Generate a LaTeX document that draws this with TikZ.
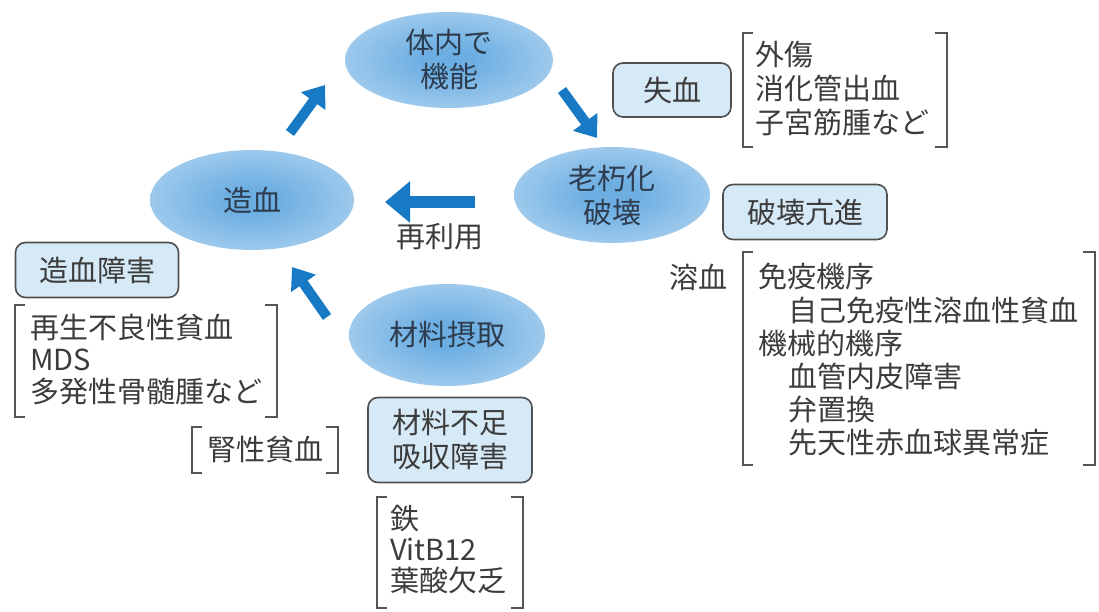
\documentclass[tikz,border=0pt]{standalone}
\usepackage{fontspec}
\setmainfont{Noto Sans CJK JP}
\usetikzlibrary{shapes.geometric,arrows.meta}
\definecolor{arrowblue}{RGB}{24,122,196}
\definecolor{ellin}{RGB}{108,174,226}
\definecolor{ellout}{RGB}{240,247,253}
\definecolor{boxfill}{RGB}{214,233,246}
\definecolor{boxline}{RGB}{80,80,80}
\definecolor{txt}{RGB}{60,60,60}
\definecolor{elltxt}{RGB}{45,60,78}
\definecolor{brk}{RGB}{85,85,85}
\pgfdeclareradialshading{ellshade}{\pgfpoint{0bp}{0bp}}{color(0bp)=(ellin); color(6bp)=(ellin); color(24bp)=(ellin!65!ellout); color(40bp)=(ellin!25!ellout); color(50bp)=(ellout)}
\tikzset{
  cycleell/.style={ellipse, shading=ellshade, inner sep=0pt, align=center, text=elltxt,
    font=\fontsize{29}{34}\selectfont},
  causebox/.style={draw=boxline, line width=1.6pt, fill=boxfill, rounded corners=10pt,
    inner sep=0pt, align=center, text=txt, font=\fontsize{29}{34}\selectfont},
  listtext/.style={anchor=west, align=left, inner sep=0pt, text=txt},
  plaintext/.style={inner sep=0pt, text=txt, font=\fontsize{29}{34}\selectfont},
  bigarrow/.style={draw=arrowblue, line width=12pt, -{Triangle[length=25pt,width=40pt]}},
  smallarrow/.style={draw=arrowblue, line width=10pt, -{Triangle[length=20pt,width=29pt]}},
  bracket/.style={draw=brk, line width=1.7pt}
}
\begin{document}
\begin{tikzpicture}[x=1pt,y=-1pt]
\useasboundingbox (0,0) rectangle (1099,612);
% ellipses
\node[cycleell, minimum width=208pt, minimum height=96pt] (func) at (449,60) {体内で\\機能};
\node[cycleell, minimum width=196pt, minimum height=96pt] (aging) at (612,195) {老朽化\\破壊};
\node[cycleell, minimum width=204pt, minimum height=100pt] (hemato) at (252,200) {造血};
\node[cycleell, minimum width=196pt, minimum height=102pt] (intake) at (447,335) {材料摂取};
% arrows
\coordinate (a1s) at (290,133); \coordinate (a1e) at (325,85);
\coordinate (a2s) at (562,90);  \coordinate (a2e) at (597,138);
\coordinate (a3s) at (475,202); \coordinate (a3e) at (385,202);
\coordinate (a4s) at (327,317); \coordinate (a4e) at (292,267);
\draw[smallarrow] (a1s) -- (a1e);
\draw[smallarrow] (a2s) -- (a2e);
\draw[bigarrow] (a3s) -- (a3e);
\draw[smallarrow] (a4s) -- (a4e);
\node[plaintext] (reuse) at (440,237) {再利用};
% boxes
\node[causebox, minimum width=118pt, minimum height=54pt] (loss) at (672,90) {失血};
\node[causebox, minimum width=164pt, minimum height=55pt] (destr) at (805,212) {破壊亢進};
\node[causebox, minimum width=163pt, minimum height=55pt] (hdis) at (97,270) {造血障害};
\node[causebox, minimum width=164pt, minimum height=85pt] (lack) at (450,440) {材料不足\\吸収障害};
% lists
\node[listtext, font=\fontsize{29}{34}\selectfont] (lossl) at (755,89) {外傷\\消化管出血\\子宮筋腫など};
\draw[bracket] (753,33) -- (743,33) -- (743,147) -- (753,147);
\draw[bracket] (935,33) -- (947,33) -- (947,147) -- (935,147);
\node[plaintext] (hemol) at (698,277) {溶血};
\node[listtext, font=\fontsize{29}{33.2}\selectfont] (destrl) at (758,360) {免疫機序\\\hspace*{30pt}自己免疫性溶血性貧血\\機械的機序\\\hspace*{30pt}血管内皮障害\\\hspace*{30pt}弁置換\\\hspace*{30pt}先天性赤血球異常症};
\draw[bracket] (753,252) -- (743,252) -- (743,465) -- (753,465);
\draw[bracket] (1083,252) -- (1095,252) -- (1095,465) -- (1083,465);
\node[listtext, font=\fontsize{29}{32}\selectfont] (hdisl) at (30,360) {再生不良性貧血\\MDS\\多発性骨髄腫など};
\draw[bracket] (25,305) -- (15,305) -- (15,417) -- (25,417);
\draw[bracket] (265,305) -- (277,305) -- (277,417) -- (265,417);
\node[plaintext] (renal) at (265,450) {腎性貧血};
\draw[bracket] (202,427) -- (192,427) -- (192,473) -- (202,473);
\draw[bracket] (326,427) -- (338,427) -- (338,473) -- (326,473);
\node[listtext, font=\fontsize{29}{31}\selectfont] (lackl) at (390,549) {鉄\\VitB12\\葉酸欠乏};
\draw[bracket] (387,497) -- (377,497) -- (377,608) -- (387,608);
\draw[bracket] (511,497) -- (523,497) -- (523,608) -- (511,608);
\end{tikzpicture}
\end{document}
